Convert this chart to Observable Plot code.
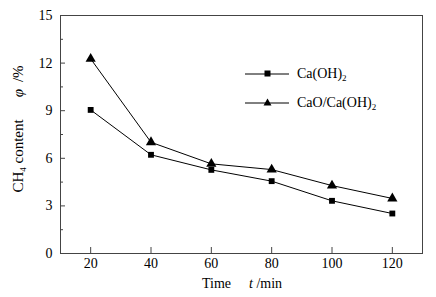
<!DOCTYPE html>
<html>
<head>
<meta charset="utf-8">
<script src="https://cdn.jsdelivr.net/npm/d3@7"></script>
<script src="https://cdn.jsdelivr.net/npm/@observablehq/plot@0.6"></script>
<style>
  body { margin: 0; background: #fff; }
  #wrap { position: relative; width: 436px; height: 297px; font-family: "Liberation Serif", "DejaVu Serif", serif; color: #000; }
  #wrap svg { display: block; }
  #wrap svg text { font-family: "Liberation Serif", "DejaVu Serif", serif !important; font-size: 14px; }
  .ov { position: absolute; font-family: "Liberation Serif", "DejaVu Serif", serif; font-size: 14px; white-space: nowrap; line-height: 1; }
  sub { font-size: 9px; vertical-align: -3px; line-height: 0; }
</style>
</head>
<body>
<div id="wrap"></div>
<script>
const times = [20, 40, 60, 80, 100, 120];
const caOH2 = [9.05, 6.22, 5.27, 4.56, 3.32, 2.52];
const caoCaOH2 = [12.27, 7.01, 5.65, 5.29, 4.28, 3.47];
const xTicks = [20, 40, 60, 80, 100, 120];
const yTicks = [0, 3, 6, 9, 12, 15];
const yMinor = [1.5, 4.5, 7.5, 10.5, 13.5];

const sq = times.map((t, i) => ({t, v: caOH2[i]}));
const tri = times.map((t, i) => ({t, v: caoCaOH2[i]}));

const plot = Plot.plot({
  width: 436,
  height: 297,
  marginLeft: 60,
  marginRight: 14,
  marginTop: 15,
  marginBottom: 44,
  style: {fontFamily: "'Liberation Serif', 'DejaVu Serif', serif", fontSize: "14px", color: "#000", background: "#fff"},
  x: {domain: [10, 130]},
  y: {domain: [0, 15]},
  marks: [
    Plot.frame({stroke: "#444", strokeWidth: 1}),
    Plot.axisX({ticks: xTicks, tickSize: 0, tickPadding: 5, label: null, fontSize: 14}),
    Plot.axisX({ticks: xTicks, tickSize: -6, text: null, label: null, stroke: "#444"}),
    Plot.axisY({ticks: yTicks, tickSize: 0, tickPadding: 8, label: null, fontSize: 14}),
    Plot.axisY({ticks: yTicks, tickSize: -5, text: null, label: null, stroke: "#444"}),
    Plot.axisY({ticks: yMinor, tickSize: -3, text: null, label: null, stroke: "#444"}),
    Plot.line(sq, {x: "t", y: "v", stroke: "#000", strokeWidth: 1}),
    Plot.line(tri, {x: "t", y: "v", stroke: "#000", strokeWidth: 1}),
    Plot.dot(sq, {x: "t", y: "v", symbol: "square", r: 3.3, fill: "#000"}),
    Plot.dot(tri, {x: "t", y: "v", symbol: "triangle", r: 3.8, fill: "#000"})
  ]
});

const wrap = document.getElementById("wrap");
wrap.appendChild(plot);

// Legend (HTML overlay)
function legendRow(top, symbol, html) {
  const row = document.createElement("div");
  row.className = "ov";
  row.style.left = "245px";
  row.style.top = (top - 8) + "px";
  row.style.display = "flex";
  row.style.alignItems = "center";
  const marker = symbol === "square"
    ? `<rect x="19.5" y="4.5" width="6" height="6" fill="#000"/>`
    : `<path d="M22.5,3.5 L26.5,10.5 L18.5,10.5 Z" fill="#000"/>`;
  row.innerHTML = `<svg width="45" height="16" style="display:block"><line x1="0" y1="8" x2="44" y2="8" stroke="#000" stroke-width="1"/>${marker}</svg><span style="margin-left:7px">${html}</span>`;
  wrap.appendChild(row);
}
legendRow(74, "square", "Ca(OH)<sub>2</sub>");
legendRow(103, "triangle", "CaO/Ca(OH)<sub>2</sub>");

// Axis titles
const xl = document.createElement("div");
xl.className = "ov";
xl.style.left = "202px";
xl.style.top = "277px";
xl.innerHTML = `Time<span style="display:inline-block;width:18px"></span><i>t</i> /min`;
wrap.appendChild(xl);

const yl = document.createElement("div");
yl.className = "ov";
yl.style.fontSize = "15px";
yl.style.left = "18px";
yl.style.top = "129px";
yl.style.transform = "translate(-50%, -50%) rotate(-90deg)";
yl.innerHTML = `CH<sub>4</sub> content<span style="display:inline-block;width:22px"></span><i>φ</i><span style="display:inline-block;width:7px"></span>/%`;
wrap.appendChild(yl);
</script>
</body>
</html>
